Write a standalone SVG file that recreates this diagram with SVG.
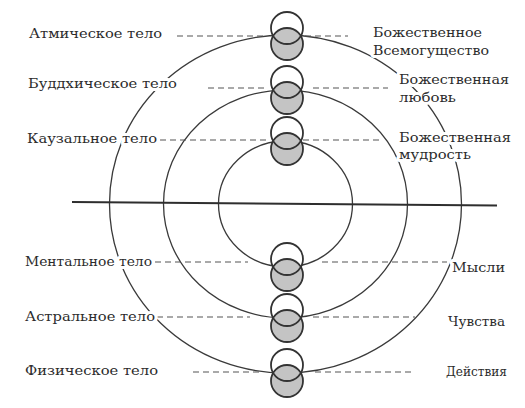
<svg xmlns="http://www.w3.org/2000/svg" width="525" height="408" viewBox="0 0 525 408">
<style>
.orb{fill:none;stroke:#3a3a3a;stroke-width:1.3}
.axis{stroke:#2e2e2e;stroke-width:2;fill:none}
.dash{stroke:#555;stroke-width:1.1;stroke-dasharray:6 4;fill:none}
.lbl{font-family:"DejaVu Serif","Liberation Serif",serif;font-size:13.5px;fill:#2c2c2c;stroke:#fff;stroke-width:6;stroke-linejoin:round;paint-order:stroke}
.top{fill:#fff;stroke:none}
.bot{fill:#c4c4c4;stroke:#333;stroke-width:1.8}
.ring{fill:none;stroke:#333;stroke-width:1.8}
</style>
<rect width="525" height="408" fill="#fff"/>
<g id="connectors">
<ellipse class="orb" cx="285.5" cy="204" rx="67" ry="63"/>
<path class="orb" d="M163.5,204 A122,114 0 0 1 407.5,204"/>
<path class="orb" d="M163.5,204 A122,114 0 0 0 407.5,204"/>
<path class="orb" d="M109.5,204 A176,169 0 0 1 461.5,204"/>
<path class="orb" d="M109.5,204 A176,169 0 0 0 461.5,204"/>
<line class="axis" x1="72" y1="202" x2="497" y2="205.5"/>
<line class="dash" x1="177" y1="36" x2="265" y2="36"/>
<line class="dash" x1="305" y1="36" x2="348" y2="36"/>
<line class="dash" x1="208" y1="88" x2="268" y2="88"/>
<line class="dash" x1="313" y1="88" x2="388" y2="88"/>
<line class="dash" x1="160" y1="140" x2="270" y2="140"/>
<line class="dash" x1="303" y1="140" x2="383" y2="140"/>
<line class="dash" x1="155" y1="262" x2="248" y2="262"/>
<line class="dash" x1="322" y1="262" x2="447" y2="262"/>
<line class="dash" x1="157" y1="317" x2="250" y2="317"/>
<line class="dash" x1="313" y1="317" x2="415" y2="317"/>
<line class="dash" x1="193" y1="372" x2="263" y2="372"/>
<line class="dash" x1="315" y1="372" x2="415" y2="372"/>
</g>
<g id="labels">
<text class="lbl" x="29" y="38" textLength="133" lengthAdjust="spacingAndGlyphs">Атмическое тело</text>
<text class="lbl" x="28" y="88" textLength="149" lengthAdjust="spacingAndGlyphs">Буддхическое тело</text>
<text class="lbl" x="27" y="143" textLength="130" lengthAdjust="spacingAndGlyphs">Каузальное тело</text>
<text class="lbl" x="373" y="37" textLength="109" lengthAdjust="spacingAndGlyphs">Божественное</text>
<text class="lbl" x="373" y="55" textLength="116" lengthAdjust="spacingAndGlyphs">Всемогущество</text>
<text class="lbl" x="399" y="84" textLength="110" lengthAdjust="spacingAndGlyphs">Божественная</text>
<text class="lbl" x="399" y="102" textLength="57" lengthAdjust="spacingAndGlyphs">любовь</text>
<text class="lbl" x="399" y="142" textLength="112" lengthAdjust="spacingAndGlyphs">Божественная</text>
<text class="lbl" x="399" y="159" textLength="72" lengthAdjust="spacingAndGlyphs">мудрость</text>
<text class="lbl" x="25" y="266" textLength="127" lengthAdjust="spacingAndGlyphs">Ментальное тело</text>
<text class="lbl" x="452" y="272" textLength="53" lengthAdjust="spacingAndGlyphs">Мысли</text>
<text class="lbl" x="25" y="321" textLength="130" lengthAdjust="spacingAndGlyphs">Астральное тело</text>
<text class="lbl" x="448" y="326" textLength="57" lengthAdjust="spacingAndGlyphs">Чувства</text>
<text class="lbl" x="25" y="375" textLength="133" lengthAdjust="spacingAndGlyphs">Физическое тело</text>
<text class="lbl" x="446" y="376" textLength="61" lengthAdjust="spacingAndGlyphs">Действия</text>
</g>
<g id="atmic">
<circle class="top" cx="287" cy="28" r="16"/><circle class="bot" cx="287" cy="44" r="16"/><circle class="ring" cx="287" cy="28" r="16"/>
</g>
<g id="buddhic">
<circle class="top" cx="287" cy="82" r="16"/><circle class="bot" cx="287" cy="98" r="16"/><circle class="ring" cx="287" cy="82" r="16"/>
</g>
<g id="causal">
<circle class="top" cx="287" cy="133" r="16"/><circle class="bot" cx="287" cy="149" r="16"/><circle class="ring" cx="287" cy="133" r="16"/>
</g>
<g id="mental">
<circle class="top" cx="287" cy="259" r="16"/><circle class="bot" cx="287" cy="275" r="16"/><circle class="ring" cx="287" cy="259" r="16"/>
</g>
<g id="astral">
<circle class="top" cx="287" cy="310" r="16"/><circle class="bot" cx="287" cy="326" r="16"/><circle class="ring" cx="287" cy="310" r="16"/>
</g>
<g id="physical">
<circle class="top" cx="287" cy="365" r="16"/><circle class="bot" cx="287" cy="381" r="16"/><circle class="ring" cx="287" cy="365" r="16"/>
</g>
</svg>
